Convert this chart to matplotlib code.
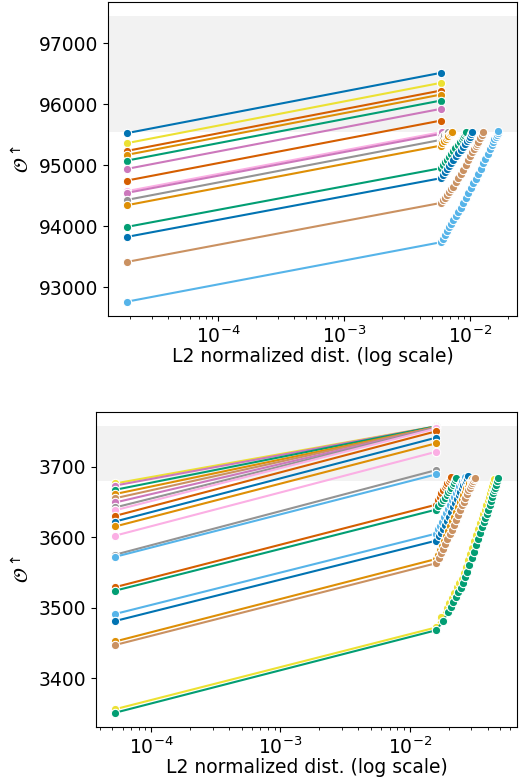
import matplotlib.pyplot as plt

plt.rcParams["mathtext.fontset"] = "dejavusans"

BLUE = "#0173b2"
ORANGE = "#de8f05"
GREEN = "#029e73"
RED = "#d55e00"
PINK = "#cc78bc"
BROWN = "#ca9161"
LPINK = "#fbafe4"
GREY = "#949494"
YELLOW = "#ece133"
LBLUE = "#56b4e9"

# ---- top panel ----
top_x_start = 1.88e-5
top_x_mid = 5.85e-3
top_band = (95550, 97440)
top_names = ["blue", "yellow", "red", "orange", "green", "pink", "red2", "lpink", "pink2",
             "grey", "orange2", "green2", "blue2", "brown", "lblue"]
top_colors = [BLUE, YELLOW, RED, ORANGE, GREEN, PINK, RED, LPINK, PINK,
              GREY, ORANGE, GREEN, BLUE, BROWN, LBLUE]
top_start = [95525, 95361, 95234, 95169, 95075, 94939, 94748, 94575, 94546,
             94431, 94344, 93989, 93825, 93415, 92764]
top_mid = [96513, 96349, 96223, 96157, 96059, 95923, 95731, 95540, 95513,
           95415, 95321, 94951, 94787, 94382, 93738]
# points after the mid point, for the series that keep moving
top_tail_x = {
    "pink2": [0.0060],
    "grey": [0.00597, 0.0061, 0.00625, 0.0064, 0.00652, 0.00665],
    "orange2": [0.00603, 0.00622, 0.00639, 0.00656, 0.00674, 0.00693, 0.00708, 0.00724],
    "green2": [0.0061, 0.00634, 0.00657, 0.00681, 0.00709, 0.00737, 0.00766, 0.00796,
               0.00828, 0.0086, 0.00878, 0.00896, 0.0091, 0.00924],
    "blue2": [0.0061, 0.00634, 0.00657, 0.00681, 0.00709, 0.00737, 0.0077, 0.00803,
              0.00843, 0.00885, 0.00916, 0.00947, 0.00974, 0.0100, 0.01021, 0.01042],
    "brown": [0.0061, 0.00634, 0.00657, 0.00681, 0.00709, 0.00737, 0.0077, 0.00803,
              0.00843, 0.00885, 0.00924, 0.00964, 0.0100, 0.01037, 0.0107, 0.01106,
              0.01135, 0.01164, 0.0120, 0.01238, 0.01276],
    "lblue": [0.0061, 0.00634, 0.00657, 0.00681, 0.00709, 0.00737, 0.00769, 0.00803,
              0.00843, 0.00885, 0.00924, 0.00964, 0.01012, 0.01062, 0.01108, 0.01157,
              0.01215, 0.01276, 0.01325, 0.01377, 0.0143, 0.01486, 0.01527, 0.01564,
              0.0160, 0.0163, 0.01657, 0.0168],
}
top_tail_y = {
    "pink2": [95551],
    "grey": [95440, 95464, 95489, 95513, 95532, 95551],
    "orange2": [95360, 95398, 95427, 95456, 95485, 95513, 95532, 95551],
    "green2": [94998, 95046, 95091, 95136, 95185, 95234, 95283, 95333, 95382, 95431,
               95464, 95497, 95524, 95551],
    "blue2": [94838, 94890, 94940, 94989, 95038, 95087, 95145, 95202, 95253, 95305,
              95351, 95398, 95433, 95469, 95510, 95551],
    "brown": [94423, 94464, 94513, 94562, 94605, 94649, 94720, 94792, 94857, 94923,
              95005, 95087, 95152, 95218, 95267, 95316, 95351, 95387, 95442, 95497, 95551],
    "lblue": [93797, 93857, 93921, 93985, 94044, 94103, 94168, 94234, 94305, 94377,
              94462, 94546, 94625, 94705, 94781, 94857, 94945, 95033, 95109, 95185,
              95259, 95333, 95382, 95431, 95466, 95497, 95530, 95562],
}

# ---- bottom panel ----
bot_x_start = 5.26e-5
bot_x_mid = 0.0161
bot_band = (3680, 3757)
bot_names = ["yellow", "pink", "green", "orange", "brown", "pink_b", "grey", "lpink", "red",
             "blue", "orange2", "lpink2", "grey2", "lblue", "red2", "green2", "lblue2",
             "blue2", "orange3", "brown2", "yellow2", "green3"]
bot_colors = [YELLOW, PINK, GREEN, ORANGE, BROWN, PINK, GREY, LPINK, RED,
              BLUE, ORANGE, LPINK, GREY, LBLUE, RED, GREEN, LBLUE,
              BLUE, ORANGE, BROWN, YELLOW, GREEN]
bot_start = [3676, 3673, 3667, 3661, 3655, 3649, 3642, 3638, 3630,
             3622, 3615, 3602, 3575, 3572, 3529, 3524, 3491,
             3481, 3452, 3447, 3356, 3351]
bot_mid = [3757, 3757, 3757, 3756, 3756, 3755, 3755, 3754, 3750,
           3741, 3733, 3721, 3695, 3689, 3646, 3639, 3605,
           3595, 3569, 3563, 3472, 3468]
bot_tail_x = {
    "red2": [0.0166, 0.01708, 0.0176, 0.0182, 0.0187, 0.0192, 0.0196, 0.02006, 0.0205,
             0.02105],
    "green2": [0.0167, 0.01738, 0.0180, 0.01866, 0.0193, 0.01986, 0.0204, 0.02105, 0.0216,
               0.02212, 0.0226, 0.0230],
    "lblue2": [0.0167, 0.01723, 0.0179, 0.01849, 0.0192, 0.01986, 0.0206, 0.02133, 0.0220,
               0.02273, 0.0235, 0.02421, 0.0249, 0.02554, 0.0261, 0.02667],
    "blue2": [0.0168, 0.01738, 0.0180, 0.01866, 0.0194, 0.02006, 0.0208, 0.02154, 0.0223,
              0.02312, 0.0239, 0.0246, 0.0253, 0.0260, 0.0266, 0.02717, 0.0277, 0.0283],
    "orange3": [0.0166, 0.01708, 0.0177, 0.01835, 0.0190, 0.0197, 0.0204, 0.02116, 0.0219,
                0.02273, 0.0236, 0.02441, 0.0252, 0.0260, 0.0267, 0.02742, 0.0282,
                0.02891, 0.0296, 0.03027],
    "brown2": [0.0168, 0.01738, 0.0181, 0.01883, 0.0196, 0.02042, 0.02115, 0.02193, 0.0227,
               0.02355, 0.0244, 0.02529, 0.0261, 0.02692, 0.0277, 0.02841, 0.0292,
               0.02997, 0.0305, 0.03107, 0.0315, 0.03192],
    "yellow2": [0.0176, 0.0194, 0.0203, 0.0212, 0.0221, 0.0231, 0.0242, 0.0253, 0.0262,
                0.0272, 0.0282, 0.0292, 0.0302, 0.0313, 0.0325, 0.0337, 0.0349, 0.0362,
                0.0371, 0.0381, 0.0391, 0.0402, 0.0410, 0.0417, 0.0425, 0.0432, 0.0440,
                0.0448],
    "green3": [0.0181, 0.0199, 0.0208, 0.0218, 0.0228, 0.0238, 0.0249, 0.0260, 0.0270,
               0.0280, 0.0290, 0.0301, 0.0312, 0.0323, 0.0335, 0.0347, 0.0360, 0.0373,
               0.0383, 0.0393, 0.0404, 0.0415, 0.0423, 0.0431, 0.0439, 0.0447, 0.0455,
               0.0463, 0.0472, 0.0481],
}
bot_tail_y = {
    "red2": [3652, 3657, 3662, 3667, 3671, 3674, 3677, 3680, 3683, 3685],
    "green2": [3644, 3648, 3652, 3656, 3660, 3664, 3667, 3670, 3674, 3677, 3681, 3684],
    "lblue2": [3611, 3616, 3622, 3628, 3634, 3640, 3646, 3652, 3657, 3662, 3667, 3672,
               3676, 3680, 3683, 3685],
    "blue2": [3601, 3606, 3611, 3617, 3623, 3629, 3636, 3642, 3648, 3654, 3659, 3664,
              3669, 3674, 3677, 3680, 3683, 3686],
    "orange3": [3575, 3582, 3588, 3595, 3602, 3609, 3616, 3623, 3629, 3636, 3642, 3649,
                3654, 3660, 3665, 3669, 3673, 3677, 3680, 3683],
    "brown2": [3570, 3577, 3583, 3590, 3597, 3604, 3610, 3617, 3624, 3631, 3638, 3645,
               3650, 3656, 3661, 3666, 3670, 3674, 3677, 3680, 3682, 3684],
    "yellow2": [3486, 3500, 3507, 3514, 3521, 3529, 3535, 3541, 3549, 3558, 3567, 3576,
                3585, 3595, 3603, 3612, 3620, 3627, 3633, 3639, 3645, 3652, 3657, 3663,
                3668, 3673, 3678, 3683],
    "green3": [3481, 3494, 3501, 3508, 3515, 3522, 3528, 3535, 3543, 3551, 3560, 3570,
               3579, 3589, 3597, 3606, 3614, 3621, 3627, 3632, 3639, 3646, 3651, 3657,
               3662, 3666, 3670, 3674, 3679, 3684],
}


def draw_panel(ax, x_start, x_mid, band, names, colors, start, mid, tail_x, tail_y):
    ax.axhspan(band[0], band[1], color="#f2f2f2", zorder=0, lw=0)
    for name, color, y0, y1 in zip(names, colors, start, mid):
        xs = [x_start, x_mid] + tail_x.get(name, [])
        ys = [y0, y1] + tail_y.get(name, [])
        ax.plot(xs, ys, color=color, lw=1.5, marker="o", ms=6,
                mec="white", mew=0.8, zorder=2)
    ax.set_xscale("log")
    ax.set_xlabel("L2 normalized dist. (log scale)", fontsize=13.5, labelpad=0)
    ax.set_ylabel(r"$\mathcal{O}^{\uparrow}$", fontsize=14)
    ax.tick_params(labelsize=13.5)


fig = plt.figure(figsize=(5.21, 7.81), dpi=100)
ax_top = fig.add_axes([0.2073, 0.5954, 0.785, 0.402])
ax_bot = fig.add_axes([0.1843, 0.0691, 0.808, 0.4034])

draw_panel(ax_top, top_x_start, top_x_mid, top_band, top_names, top_colors,
           top_start, top_mid, top_tail_x, top_tail_y)
draw_panel(ax_bot, bot_x_start, bot_x_mid, bot_band, bot_names, bot_colors,
           bot_start, bot_mid, bot_tail_x, bot_tail_y)

ax_top.set_yticks([93000, 94000, 95000, 96000, 97000])
ax_bot.set_yticks([3400, 3500, 3600, 3700])

fig.savefig("out.png", dpi=100)
